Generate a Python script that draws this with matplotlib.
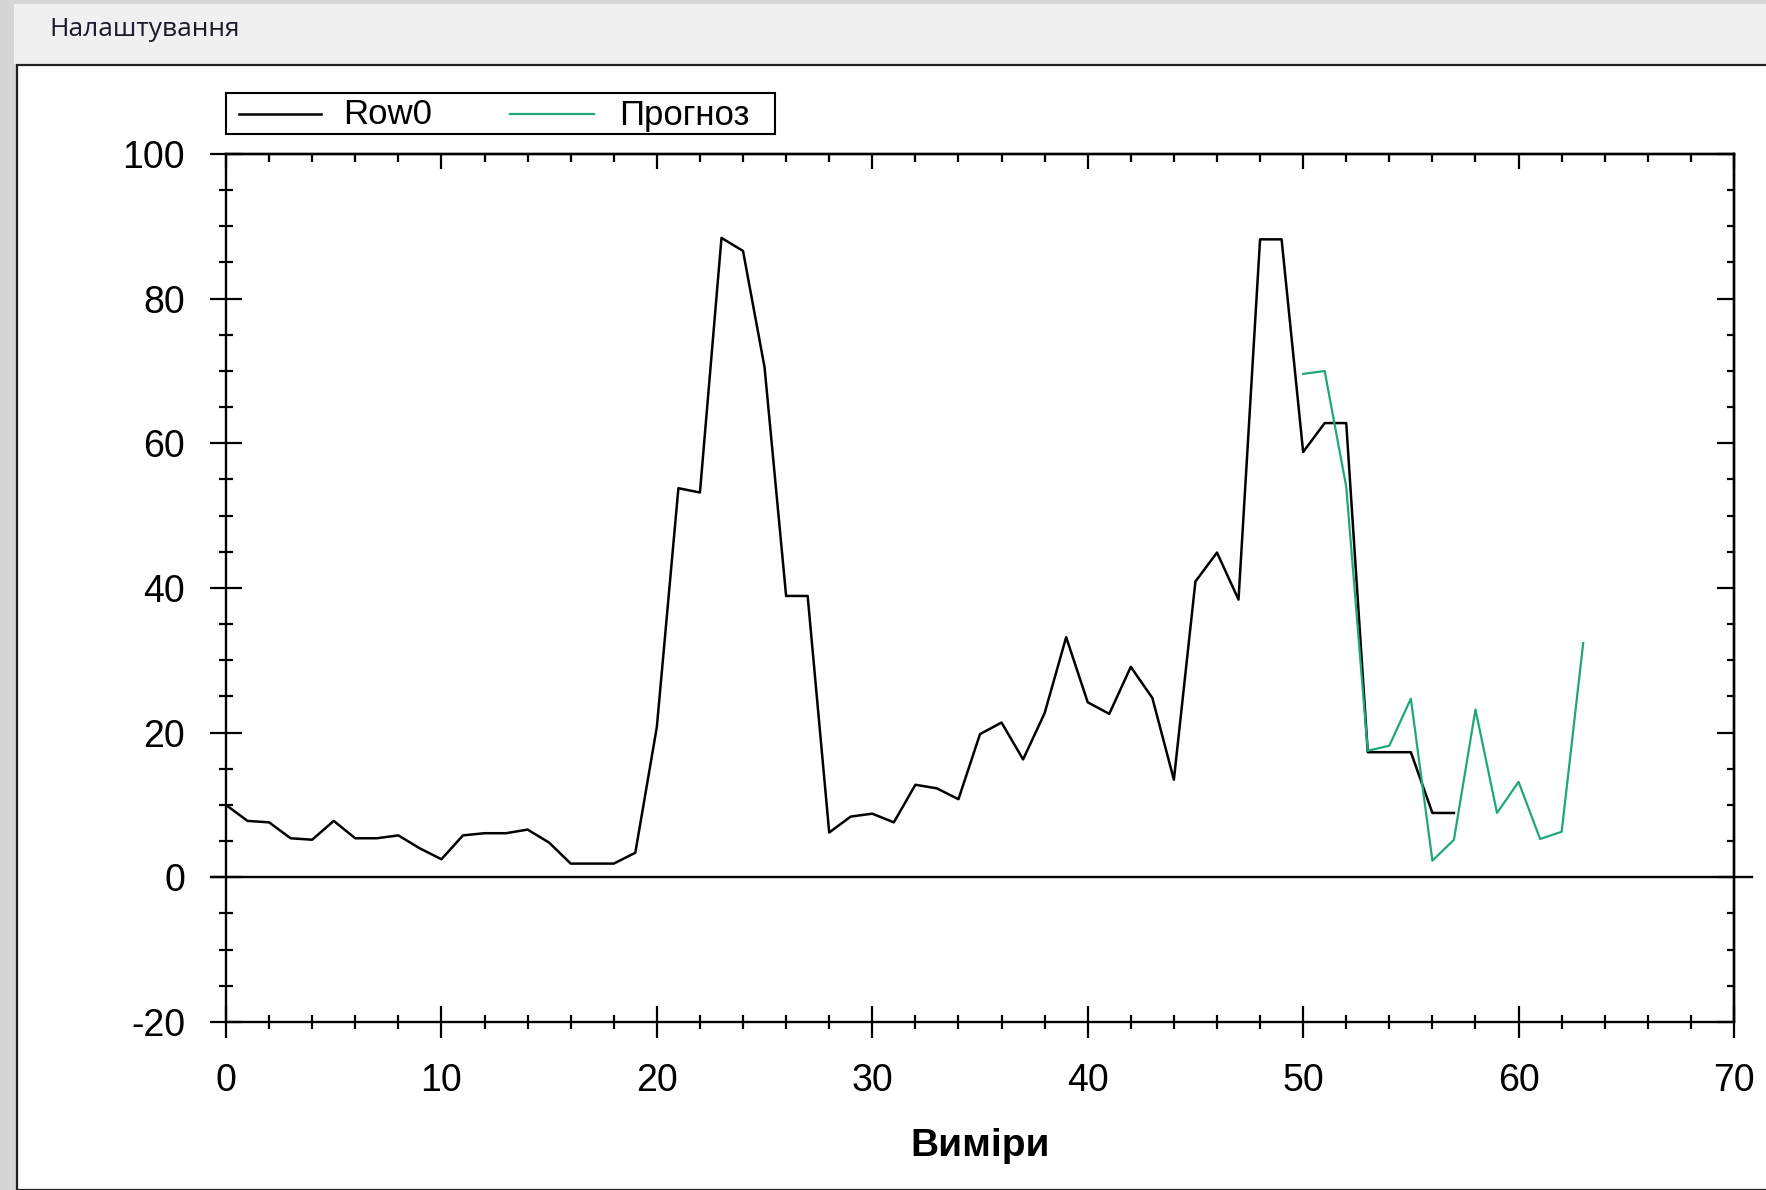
import matplotlib
matplotlib.use("Agg")
import matplotlib.pyplot as plt
from matplotlib.ticker import MultipleLocator
from matplotlib.patches import Rectangle
from matplotlib.lines import Line2D

# ---------------- data ----------------
row0_x = list(range(0, 58))
row0_y = [10.0, 7.8, 7.6, 5.4, 5.2, 7.8, 5.4, 5.4, 5.8, 4.0,
          2.5, 5.8, 6.1, 6.1, 6.6, 4.8, 1.9, 1.9, 1.9, 3.4,
          20.8, 53.8, 53.2, 88.4, 86.6, 70.5, 38.9, 38.9, 6.2, 8.4,
          8.8, 7.6, 12.8, 12.3, 10.8, 19.8, 21.4, 16.3, 22.7, 33.2,
          24.2, 22.6, 29.1, 24.8, 13.5, 40.9, 44.9, 38.4, 88.2, 88.2,
          58.8, 62.8, 62.8, 17.3, 17.3, 17.3, 8.9, 8.9]

forecast_x = list(range(50, 64))
forecast_y = [69.6, 70.0, 54.0, 17.5, 18.2, 24.7, 2.3, 5.2, 23.2, 8.9,
              13.2, 5.3, 6.3, 32.4]

series_names = ["Row0", "Прогноз"]
x_ticks = [0, 10, 20, 30, 40, 50, 60, 70]
y_ticks = [-20, 0, 20, 40, 60, 80, 100]
x_label = "Виміри"
window_title = "Налаштування"

# ---------------- figure ----------------
W, H = 1766, 1190
fig = plt.figure(figsize=(W / 100, H / 100), dpi=100, facecolor="#d6d6d6")


def fx(px):
    return px / W


def fy(py):
    return 1 - py / H


# window chrome
fig.add_artist(Rectangle((fx(14), fy(64)), fx(W) - fx(14), fy(4) - fy(64),
                         transform=fig.transFigure, facecolor="#f0f0f0",
                         edgecolor="none", zorder=0))
fig.add_artist(Rectangle((fx(17), 0), 1.0, fy(65),
                         transform=fig.transFigure, facecolor="white",
                         edgecolor="#222222", linewidth=1.6, zorder=0))
fig.text(fx(49), fy(29), window_title, fontsize=19, family=["Open Sans", "DejaVu Sans"],
         color="#1a1a2a", ha="left", va="center")

# ---------------- axes ----------------
L, R, T, B = 226, 1734, 154, 1022
ax = fig.add_axes([fx(L), fy(B), fx(R) - fx(L), fy(T) - fy(B)])
ax.set_facecolor("white")

ax.plot(row0_x, row0_y, color="black", linewidth=1.8, zorder=3)
ax.plot(forecast_x, forecast_y, color="#1fa77a", linewidth=1.6, zorder=4)

ax.axhline(0, xmin=-0.01, xmax=1.012, color="black", linewidth=1.7,
           clip_on=False, zorder=2)

ax.set_xlim(0, 70)
ax.set_ylim(-20, 100)
ax.set_xticks(x_ticks)
ax.set_yticks(y_ticks)
ax.xaxis.set_minor_locator(MultipleLocator(2))
ax.yaxis.set_minor_locator(MultipleLocator(5))

tick_font = {"family": ["Liberation Sans", "DejaVu Sans"], "size": 27}
ax.set_xticklabels([str(v) for v in x_ticks], fontdict=tick_font)
ax.set_yticklabels([str(v) for v in y_ticks], fontdict=tick_font)

ax.tick_params(which="major", direction="inout", length=23, width=1.6, pad=18,
               color="black", labelcolor="black")
ax.tick_params(which="minor", direction="inout", length=10, width=1.6)
ax.tick_params(top=False, right=False)

for s in ax.spines.values():
    s.set_linewidth(1.7)
    s.set_color("black")

# top and right ticks pointing inward
sec_x = ax.secondary_xaxis("top")
sec_x.xaxis.set_major_locator(MultipleLocator(10))
sec_x.xaxis.set_minor_locator(MultipleLocator(2))
sec_x.tick_params(which="major", direction="in", length=11, width=1.6, labeltop=False)
sec_x.tick_params(which="minor", direction="in", length=5.5, width=1.6)
sec_x.spines["top"].set_linewidth(1.7)

sec_y = ax.secondary_yaxis("right")
sec_y.yaxis.set_major_locator(MultipleLocator(20))
sec_y.yaxis.set_minor_locator(MultipleLocator(5))
sec_y.tick_params(which="major", direction="in", length=12, width=1.6, labelright=False)
sec_y.tick_params(which="minor", direction="in", length=5, width=1.6)
sec_y.spines["right"].set_linewidth(1.7)

ax.set_xlabel(x_label, fontsize=28, fontweight="bold",
              family=["Liberation Sans", "DejaVu Sans"], labelpad=21)

# ---------------- legend (boxed key above the plot) ----------------
leg_line_y = 113.5
leg_text_y = 111.5
fig.add_artist(Rectangle((fx(226.5), fy(134)), fx(775) - fx(226.5), fy(93.5) - fy(134),
                         transform=fig.transFigure, facecolor="white",
                         edgecolor="black", linewidth=1.5, zorder=5))
fig.add_artist(Line2D([fx(239), fx(321)], [fy(leg_line_y), fy(leg_line_y)],
                      transform=fig.transFigure, color="black", linewidth=1.8, zorder=6))
fig.text(fx(343.5), fy(leg_text_y), series_names[0], fontsize=25,
         family=["Liberation Sans", "DejaVu Sans"], ha="left", va="center_baseline", zorder=6)
fig.add_artist(Line2D([fx(510), fx(593.5)], [fy(leg_line_y), fy(leg_line_y)],
                      transform=fig.transFigure, color="#1fa77a", linewidth=1.6, zorder=6))
fig.text(fx(619.5), fy(leg_text_y), series_names[1], fontsize=25,
         family=["Liberation Sans", "DejaVu Sans"], ha="left", va="center_baseline", zorder=6)

fig.savefig("out.png", dpi=100, facecolor=fig.get_facecolor())
